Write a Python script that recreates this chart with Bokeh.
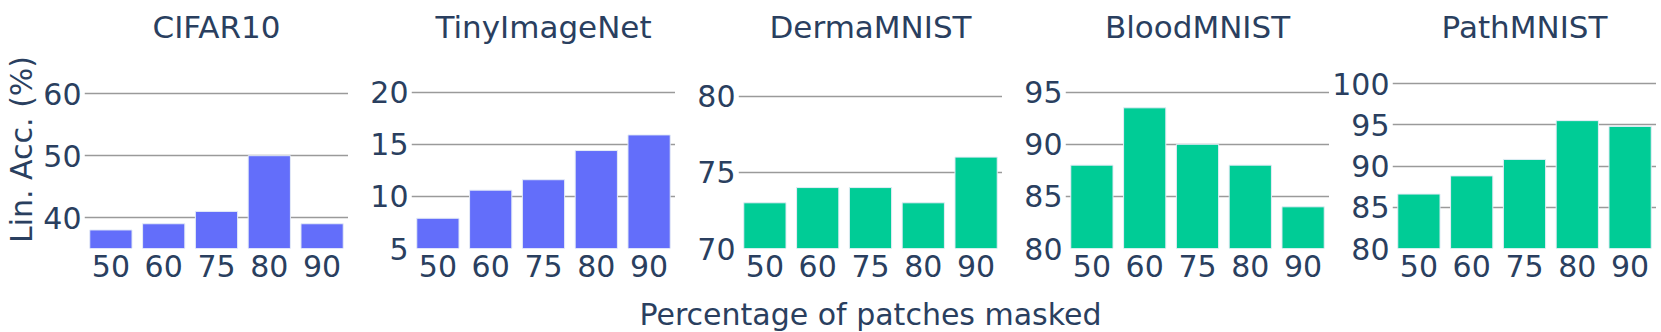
from bokeh.plotting import figure
from bokeh.layouts import row, column
from bokeh.models import FactorRange, Range1d, FixedTicker, Title
from bokeh.embed import file_html
from bokeh.resources import INLINE

# ---------------- data ----------------
masks = ["50", "60", "75", "80", "90"]
titles = ["CIFAR10", "TinyImageNet", "DermaMNIST", "BloodMNIST", "PathMNIST"]
cifar10 = [38, 39, 41, 50, 39]
tinyimagenet = [7.9, 10.6, 11.6, 14.4, 15.9]
dermamnist = [73, 74, 74, 73, 76]
bloodmnist = [88, 93.5, 90, 88, 84]
pathmnist = [86.6, 88.8, 90.8, 95.5, 94.8]
series = [cifar10, tinyimagenet, dermamnist, bloodmnist, pathmnist]
yticks = [[40, 50, 60], [5, 10, 15, 20], [70, 75, 80], [80, 85, 90, 95], [80, 85, 90, 95, 100]]
yranges = [(35, 67), (5, 24), (70, 83), (80, 99), (80, 104)]
x_title = "Percentage of patches masked"
y_title = "Lin. Acc. (%)"

# ---------------- style ----------------
FONT = "DejaVu Sans"
TXT = "#2a3f5f"
BLUE = "#636EFA"
GREEN = "#00CC96"
colors = [BLUE, BLUE, GREEN, GREEN, GREEN]
FS = "30px"

figs = []
lefts = [84, 63, 63, 63, 63]
for i in range(5):
    p = figure(x_range=FactorRange(*masks), y_range=Range1d(*yranges[i]),
               frame_width=264, frame_height=198,
               min_border_left=lefts[i], min_border_right=0,
               min_border_top=50, min_border_bottom=46,
               toolbar_location=None, output_backend="svg", title=titles[i])
    p.x_range.range_padding = 0
    p.title.align = "center"
    p.title.text_font = FONT
    p.title.text_font_size = "31px"
    p.title.text_font_style = "normal"
    p.title.text_color = TXT
    p.title.standoff = 12
    p.outline_line_color = None
    p.xgrid.visible = False
    p.ygrid.ticker = FixedTicker(ticks=[t for t in yticks[i] if t > yranges[i][0]])
    p.ygrid.grid_line_color = "#9a9a9a"
    p.ygrid.grid_line_width = 1.5
    p.yaxis.ticker = FixedTicker(ticks=yticks[i])
    for ax in (p.xaxis[0], p.yaxis[0]):
        ax.axis_line_color = None
        ax.major_tick_line_color = None
        ax.minor_tick_line_color = None
        ax.major_tick_out = 0
        ax.major_tick_in = 0
        ax.minor_tick_out = 0
        ax.major_label_text_font = FONT
        ax.major_label_text_font_size = FS
        ax.major_label_text_color = TXT
    p.xaxis.major_label_standoff = 6
    p.yaxis.major_label_standoff = 3
    p.vbar(x=masks, top=series[i], bottom=0, width=0.8,
           fill_color=colors[i], line_color="#E5ECF6", line_width=1)
    figs.append(p)

figs[0].add_layout(Title(text=y_title, align="center", vertical_align="top", standoff=0,
                         text_font=FONT, text_font_size="30px",
                         text_font_style="normal", text_color=TXT), "left")

total_w = sum(lefts) + 5 * 264
strip = figure(width=total_w, frame_height=1, min_border_left=lefts[0], min_border_right=0,
               min_border_top=0, min_border_bottom=0,
               x_range=Range1d(0, 1), y_range=Range1d(0, 1),
               x_axis_type=None, y_axis_type=None, toolbar_location=None,
               output_backend="svg", title=x_title)
strip.title.align = "center"
strip.title.vertical_align = "bottom"
strip.title.standoff = 0
strip.title.text_font = FONT
strip.title.text_font_size = "30px"
strip.title.text_font_style = "normal"
strip.title.text_color = TXT
strip.outline_line_color = None
strip.xgrid.visible = False
strip.ygrid.visible = False

layout = column(row(*figs, spacing=0), strip, spacing=0)
open("out.html", "w").write(file_html(layout, INLINE))
